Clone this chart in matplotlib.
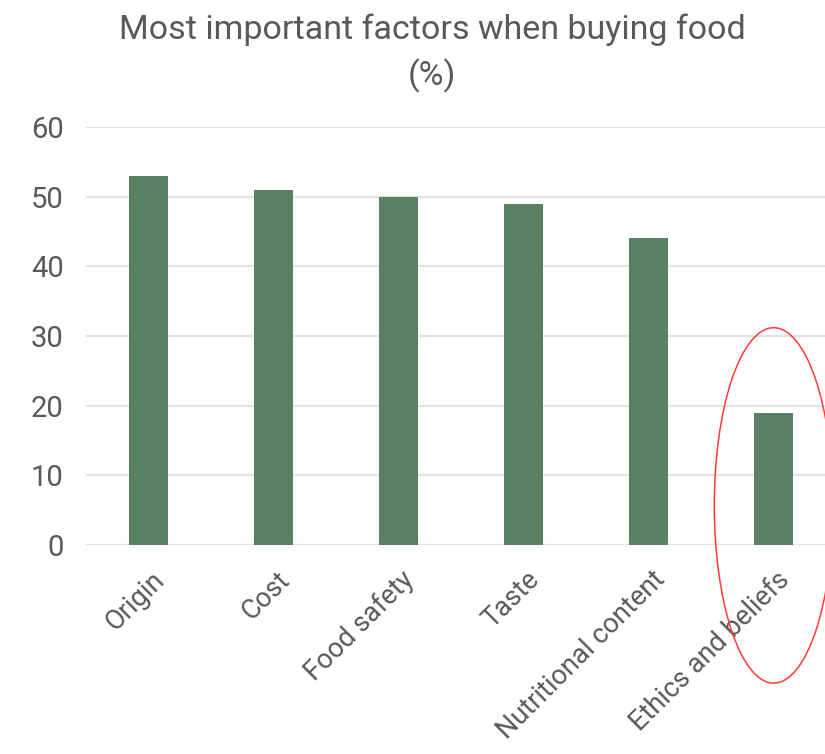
import matplotlib
matplotlib.use("Agg")
import matplotlib.pyplot as plt
import matplotlib.transforms as mtransforms
from matplotlib.patches import Ellipse

categories = ["Origin", "Cost", "Food safety", "Taste", "Nutritional content", "Ethics and beliefs"]
values = [53, 51, 50, 49, 44, 19]
y_ticks = [0, 10, 20, 30, 40, 50, 60]

BAR_COLOR = "#5a8064"
TEXT_COLOR = "#595959"
GRID_COLOR = "#e3e3e3"
FONT = ["Roboto", "DejaVu Sans"]

plt.rcParams["font.family"] = FONT

fig = plt.figure(figsize=(8.25, 7.54), dpi=100)
ax = fig.add_axes([0.104, 0.277, 0.896, 0.5546])

x = list(range(len(categories)))
ax.bar(x, values, width=0.31, color=BAR_COLOR, zorder=3)

ax.set_xlim(-0.5, 5.41)
ax.set_ylim(0, 60)
ax.set_yticks(y_ticks)
ax.set_yticklabels([str(v) for v in y_ticks])
ax.yaxis.grid(True, color=GRID_COLOR, linewidth=1.6, zorder=0)
ax.set_axisbelow(True)
for side in ["top", "right", "left", "bottom"]:
    ax.spines[side].set_visible(False)
ax.tick_params(axis="y", length=0, pad=16, labelsize=21, labelcolor=TEXT_COLOR)
ax.tick_params(axis="x", length=0, pad=22, labelsize=19.5, labelcolor=TEXT_COLOR)
ax.set_xticks(x)
ax.set_xticklabels(categories, rotation=45, ha="right", va="center", rotation_mode="anchor")
shift = mtransforms.ScaledTranslation(12 / 100, 0, fig.dpi_scale_trans)
for lbl in ax.get_xticklabels():
    lbl.set_transform(lbl.get_transform() + shift)

# red highlight ring round the last bar
ring = Ellipse((5.0, 5.7), width=0.95, height=51, fill=False, edgecolor="#ff3b3b",
               linewidth=1.1, clip_on=False, zorder=4)
ax.add_patch(ring)

fig.text(0.524, 0.96, "Most important factors when buying food", ha="center", va="center",
         fontsize=24.5, color=TEXT_COLOR)
fig.text(0.524, 0.9, "(%)", ha="center", va="center", fontsize=24.5, color=TEXT_COLOR)

fig.savefig("out.png", dpi=100, facecolor="white")
